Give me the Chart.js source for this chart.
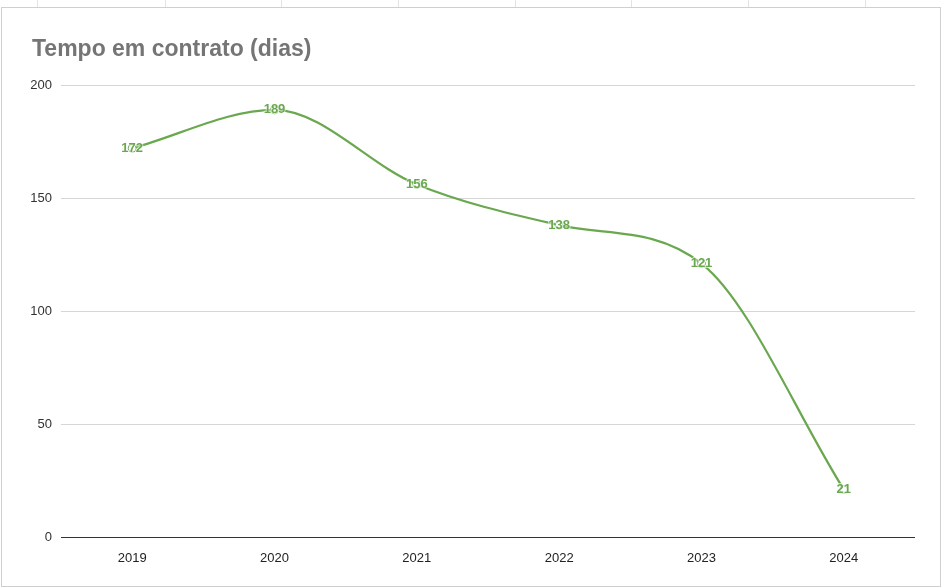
<!DOCTYPE html>
<html>
<head>
<meta charset="utf-8">
<script src="https://cdn.jsdelivr.net/npm/chart.js@4"></script>
<style>
  html, body { margin: 0; padding: 0; background: #fff; }
  body { width: 945px; height: 588px; position: relative; overflow: hidden; }
  .sheet {
    position: absolute; left: 0; top: 0; width: 945px; height: 8px;
    background: repeating-linear-gradient(to right, transparent 0 115.7px, #e3e3e3 115.7px 116.7px);
    background-position: 49px 0;
  }
  .frame {
    position: absolute; left: 1px; top: 7px; width: 938px; height: 578px;
    border: 1px solid #cfcfcf; background: #fff;
  }
  canvas { position: absolute; left: 0; top: 0; }
</style>
</head>
<body>
<div class="sheet"></div>
<div class="frame"></div>
<canvas id="chart" width="945" height="588"></canvas>
<script>
var years = ['2019', '2020', '2021', '2022', '2023', '2024'];
var dias = [172, 189, 156, 138, 121, 21];
var yTicks = [0, 50, 100, 150, 200];

var green = '#6aa84f';
var font = '"Liberation Sans", Arial, sans-serif';

// titulo e rotulos dos pontos
var labelsPlugin = {
  id: 'labels',
  afterDatasetsDraw: function (chart) {
    var ctx = chart.ctx;
    var meta = chart.getDatasetMeta(0);
    ctx.save();
    ctx.font = 'bold 13px ' + font;
    ctx.textAlign = 'center';
    ctx.textBaseline = 'middle';
    ctx.lineJoin = 'round';
    meta.data.forEach(function (pt, i) {
      ctx.strokeStyle = 'rgba(255,255,255,0.6)';
      ctx.lineWidth = 2;
      ctx.strokeText(String(dias[i]), pt.x, pt.y);
      ctx.fillStyle = green;
      ctx.fillText(String(dias[i]), pt.x, pt.y);
    });
    ctx.restore();
  },
  afterDraw: function (chart) {
    var ctx = chart.ctx;
    ctx.save();
    ctx.font = 'bold 23px ' + font;
    ctx.fillStyle = '#757575';
    ctx.textAlign = 'left';
    ctx.textBaseline = 'alphabetic';
    ctx.fillText('Tempo em contrato (dias)', 32, 56);
    ctx.restore();
  }
};

new Chart(document.getElementById('chart'), {
  type: 'line',
  data: {
    labels: years,
    datasets: [{
      data: dias,
      borderColor: green,
      borderWidth: 2.2,
      cubicInterpolationMode: 'monotone',
      pointRadius: 4,
      pointBackgroundColor: '#fff',
      pointBorderColor: green,
      pointBorderWidth: 1,
      fill: false
    }]
  },
  options: {
    responsive: false,
    animation: false,
    layout: { padding: { left: 0, right: 30, top: 85, bottom: 0 } },
    plugins: {
      legend: { display: false },
      tooltip: { enabled: false }
    },
    scales: {
      x: {
        offset: true,
        grid: { display: false },
        border: { display: false },
        ticks: {
          color: '#222',
          font: { family: font, size: 13 },
          padding: 6
        },
        afterFit: function (s) { s.height = 51; }
      },
      y: {
        min: 0,
        max: 200,
        afterBuildTicks: function (s) {
          s.ticks = yTicks.map(function (v) { return { value: v }; });
        },
        grid: {
          drawTicks: false,
          color: function (c) { return c.tick.value === 0 ? '#333' : '#d6d6d6'; },
          lineWidth: 1
        },
        border: { display: false },
        ticks: {
          color: '#333',
          font: { family: font, size: 13 },
          padding: 9
        },
        afterFit: function (s) { s.width = 61; }
      }
    }
  },
  plugins: [labelsPlugin]
});
</script>
</body>
</html>
